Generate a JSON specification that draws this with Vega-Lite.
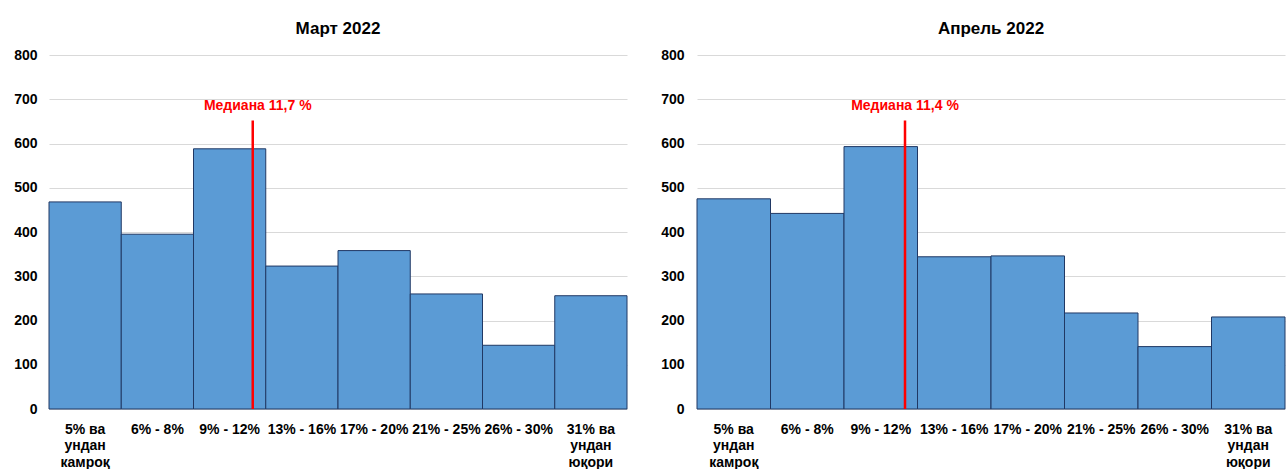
{
  "$schema": "https://vega.github.io/schema/vega-lite/v6.json",
  "padding": {"left": 13, "top": 20, "right": 0, "bottom": 0},
  "background": "white",
  "spacing": 32,
  "config": {
    "font": "Liberation Sans",
    "view": {"stroke": null},
    "title": {"fontSize": 17, "fontWeight": "bold", "color": "#000000", "offset": 10, "anchor": "middle"},
    "axis": {"labelFont": "Liberation Sans", "labelFontWeight": "bold", "labelColor": "#000000", "title": null, "ticks": false, "tickSize": 0}
  },
  "datasets": {
    "mar": [
      {"cat": "5% ва|ундан|камроқ", "n": 468},
      {"cat": "6% - 8%", "n": 395},
      {"cat": "9% - 12%", "n": 588},
      {"cat": "13% - 16%", "n": 323},
      {"cat": "17% - 20%", "n": 358},
      {"cat": "21% - 25%", "n": 260},
      {"cat": "26% - 30%", "n": 144},
      {"cat": "31% ва|ундан|юқори", "n": 256}
    ],
    "apr": [
      {"cat": "5% ва|ундан|камроқ", "n": 475},
      {"cat": "6% - 8%", "n": 442},
      {"cat": "9% - 12%", "n": 593},
      {"cat": "13% - 16%", "n": 344},
      {"cat": "17% - 20%", "n": 346},
      {"cat": "21% - 25%", "n": 217},
      {"cat": "26% - 30%", "n": 141},
      {"cat": "31% ва|ундан|юқори", "n": 208}
    ],
    "marMedian": [{"cat": "9% - 12%", "top": 652, "labelY": 684, "label": "Медиана 11,7 %"}],
    "aprMedian": [{"cat": "9% - 12%", "top": 652, "labelY": 684, "label": "Медиана 11,4 %"}]
  },
  "hconcat": [
    {
      "title": "Март 2022",
      "width": 578,
      "height": 354,
      "layer": [
        {
          "data": {"name": "mar"},
          "mark": {"type": "bar", "fill": "#5b9bd5", "stroke": "#203864", "strokeWidth": 1},
          "encoding": {
            "x": {
              "field": "cat", "type": "nominal", "sort": null,
              "scale": {"paddingInner": 0, "paddingOuter": 0},
              "axis": {"labelAngle": 0, "labelExpr": "split(datum.label, '|')", "labelFontSize": 14, "labelLineHeight": 16.5, "labelPadding": 13, "labelBaseline": "top", "domainColor": "#d9d9d9", "grid": false, "labelLimit": 0}
            },
            "y": {"field": "n", "type": "quantitative", "scale": {"domain": [0, 800]},
              "axis": {"values": [0, 100, 200, 300, 400, 500, 600, 700, 800], "domain": false, "gridColor": "#d9d9d9", "labelFontSize": 14, "labelPadding": 12, "minExtent": 36, "maxExtent": 36}}
          }
        },
        {
          "data": {"name": "marMedian"},
          "mark": {"type": "rule", "color": "#ff0000", "strokeWidth": 2.5},
          "encoding": {
            "x": {"field": "cat", "type": "nominal", "sort": null, "bandPosition": 0.82},
            "y": {"field": "top", "type": "quantitative"},
            "y2": {"datum": 0}
          }
        },
        {
          "data": {"name": "marMedian"},
          "mark": {"type": "text", "color": "#ff0000", "fontWeight": "bold", "fontSize": 14, "dx": 5},
          "encoding": {
            "x": {"field": "cat", "type": "nominal", "sort": null, "bandPosition": 0.82},
            "y": {"field": "labelY", "type": "quantitative"},
            "text": {"field": "label", "type": "nominal"}
          }
        }
      ]
    },
    {
      "title": "Апрель 2022",
      "width": 588,
      "height": 354,
      "layer": [
        {
          "data": {"name": "apr"},
          "mark": {"type": "bar", "fill": "#5b9bd5", "stroke": "#203864", "strokeWidth": 1},
          "encoding": {
            "x": {
              "field": "cat", "type": "nominal", "sort": null,
              "scale": {"paddingInner": 0, "paddingOuter": 0},
              "axis": {"labelAngle": 0, "labelExpr": "split(datum.label, '|')", "labelFontSize": 14, "labelLineHeight": 16.5, "labelPadding": 13, "labelBaseline": "top", "domainColor": "#d9d9d9", "grid": false, "labelLimit": 0}
            },
            "y": {"field": "n", "type": "quantitative", "scale": {"domain": [0, 800]},
              "axis": {"values": [0, 100, 200, 300, 400, 500, 600, 700, 800], "domain": false, "gridColor": "#d9d9d9", "labelFontSize": 14, "labelPadding": 13, "minExtent": 36, "maxExtent": 36}}
          }
        },
        {
          "data": {"name": "aprMedian"},
          "mark": {"type": "rule", "color": "#ff0000", "strokeWidth": 2.5},
          "encoding": {
            "x": {"field": "cat", "type": "nominal", "sort": null, "bandPosition": 0.83},
            "y": {"field": "top", "type": "quantitative"},
            "y2": {"datum": 0}
          }
        },
        {
          "data": {"name": "aprMedian"},
          "mark": {"type": "text", "color": "#ff0000", "fontWeight": "bold", "fontSize": 14},
          "encoding": {
            "x": {"field": "cat", "type": "nominal", "sort": null, "bandPosition": 0.83},
            "y": {"field": "labelY", "type": "quantitative"},
            "text": {"field": "label", "type": "nominal"}
          }
        }
      ]
    }
  ]
}
